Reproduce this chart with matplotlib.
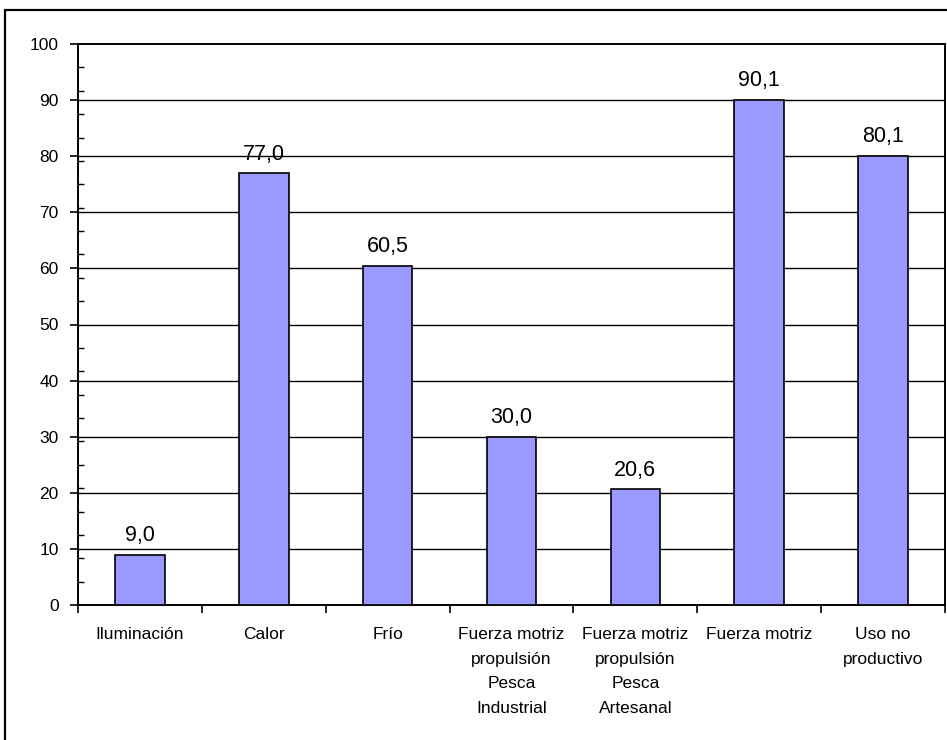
import matplotlib
matplotlib.use("Agg")
import matplotlib.pyplot as plt
from matplotlib.patches import Rectangle
from matplotlib.ticker import MultipleLocator, FixedLocator, NullFormatter
import numpy as np

plt.rcParams['font.family'] = ['Liberation Sans', 'DejaVu Sans']

categories = [
    "Iluminación",
    "Calor",
    "Frío",
    "Fuerza motriz\npropulsión\nPesca\nIndustrial",
    "Fuerza motriz\npropulsión\nPesca\nArtesanal",
    "Fuerza motriz",
    "Uso no\nproductivo",
]
values = [9.0, 77.0, 60.5, 30.0, 20.6, 90.1, 80.1]

W, H = 947, 740
fig = plt.figure(figsize=(W / 100, H / 100), dpi=100)
fig.patch.set_facecolor("white")

# outer chart-area frame
fig.patches.append(Rectangle((5 / W, -0.02), 1.05, 1 - 10 / H + 0.02,
                             transform=fig.transFigure, fill=False,
                             edgecolor="black", linewidth=1.6, clip_on=False))

ax = fig.add_axes([78 / W, 1 - 605 / H, (945 - 78) / W, (605 - 44) / H])

x = np.arange(len(categories))
ax.bar(x, values, width=0.4, color="#9999FF", edgecolor="black",
       linewidth=1.2, zorder=3)

for xi, v in zip(x, values):
    ax.annotate(f"{v:.1f}".replace(".", ","), (xi, v), xytext=(0, 6),
                textcoords="offset points", ha="center", va="bottom",
                fontsize=15.5, color="black")

ax.set_xlim(-0.5, len(categories) - 0.5)
ax.set_ylim(0, 100)

# y axis
ax.yaxis.set_major_locator(MultipleLocator(10))
ax.yaxis.set_minor_locator(MultipleLocator(100 / 24))
ax.tick_params(axis="y", which="major", direction="out", length=6,
               width=1.2, labelsize=12.5, pad=8)
ax.tick_params(axis="y", which="minor", direction="in", length=4, width=1.0)
for y in range(10, 100, 10):
    ax.axhline(y, color="black", linewidth=1.0, zorder=1)

# x axis: boundary ticks, labels centred on bars
ax.xaxis.set_major_locator(FixedLocator(np.arange(-0.5, len(categories), 1.0)))
ax.xaxis.set_major_formatter(NullFormatter())
ax.xaxis.set_minor_locator(FixedLocator(x))
ax.set_xticklabels(categories, minor=True, fontsize=12.5, linespacing=1.8,
                   va="top", ha="center")
ax.tick_params(axis="x", which="minor", length=0, pad=16)
ax.tick_params(axis="x", which="major", direction="out", length=6, width=1.2)

for s in ax.spines.values():
    s.set_linewidth(1.4)
    s.set_color("black")

fig.savefig("out.png", dpi=100)
